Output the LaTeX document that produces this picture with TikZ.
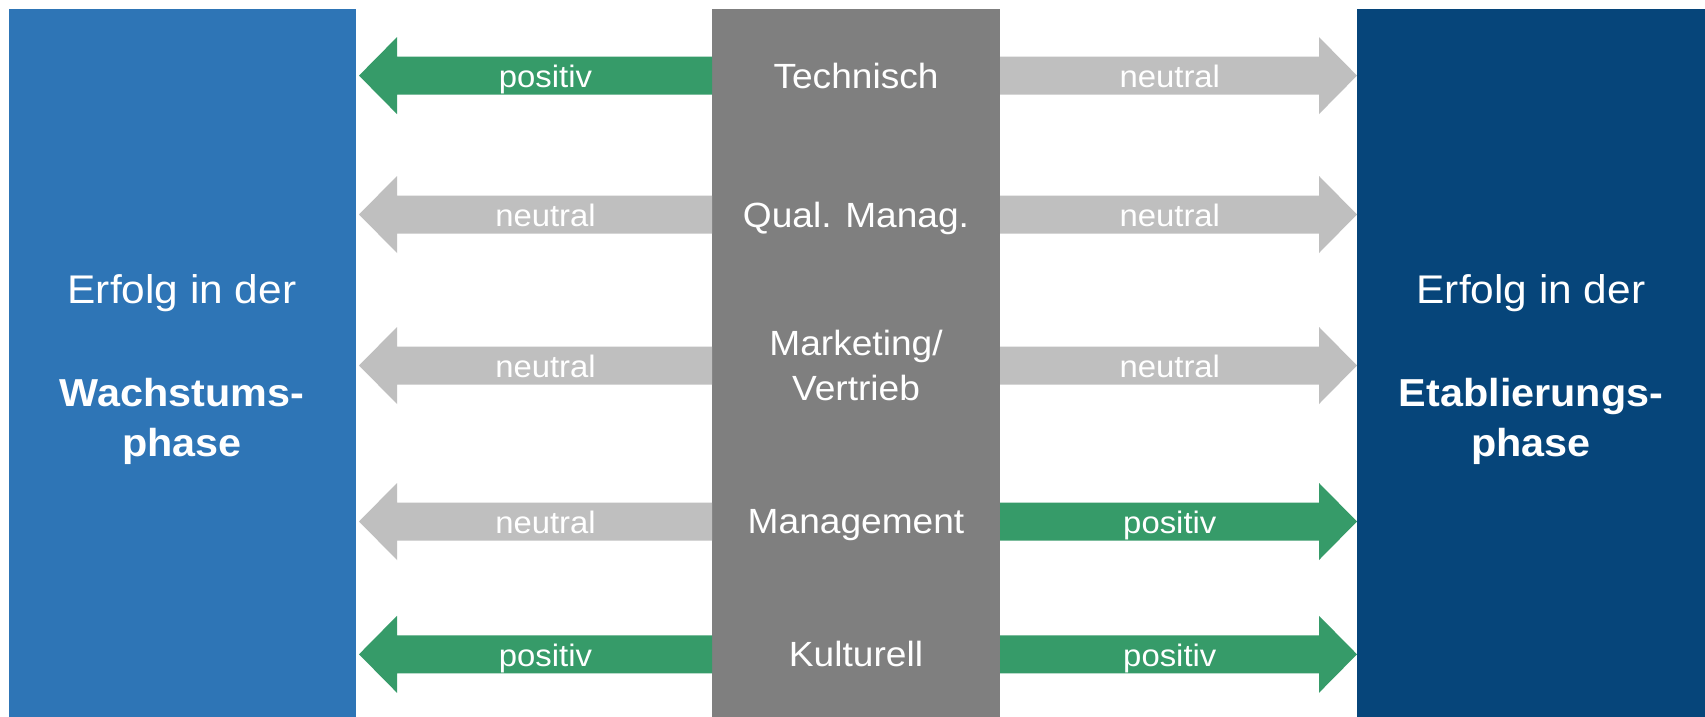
\documentclass[tikz,border=0pt]{standalone}
\usepackage{fontspec}
\setmainfont[FakeStretch=1.06]{Liberation Sans}
\definecolor{growblue}{HTML}{2E75B6}
\definecolor{estblue}{HTML}{06457A}
\definecolor{midgray}{HTML}{7F7F7F}
\definecolor{posgreen}{HTML}{369B69}
\definecolor{neutgray}{HTML}{BFBFBF}

% left-pointing arrow from the centre column to the growth box
% #1 row coordinate, #2 colour, #3 node name, #4 label
\newcommand\larrow[4]{%
  \fill[#2] (mid.west|-#1) ++(0,-19) -- ++(-315,0) -- ++(0,-19.5)
    -- ++(-38,38.5) -- ++(38,38.5) -- ++(0,-19.5) -- ++(315,0) -- cycle;
  \path (mid.west|-#1) ++(-166.5,12) node[arrlabel] (#3) {#4};}
% right-pointing arrow from the centre column to the established box
\newcommand\rarrow[4]{%
  \fill[#2] (mid.east|-#1) ++(0,-19) -- ++(319,0) -- ++(0,-19.5)
    -- ++(38,38.5) -- ++(-38,38.5) -- ++(0,-19.5) -- ++(-319,0) -- cycle;
  \path (mid.east|-#1) ++(169.8,12) node[arrlabel] (#3) {#4};}

\begin{document}
\begin{tikzpicture}[x=1pt,y=-1pt,
  panel/.style={anchor=north west, inner sep=0pt, outer sep=0pt, minimum height=708.3pt},
  arrlabel/.style={anchor=base, inner sep=0pt, text=white, font=\fontsize{31}{36}\selectfont},
  factor/.style={anchor=base, inner sep=0pt, text=white, font=\fontsize{35}{45}\selectfont},
  sidetext/.style={anchor=base, inner sep=0pt, text=white, font=\fontsize{40}{50}\selectfont},
  sidebold/.style={anchor=base, inner sep=0pt, text=white, font=\fontsize{39}{50}\selectfont\bfseries}]
\useasboundingbox (0,0) rectangle (1705,717);
\fill[white] (0,0) rectangle (1705,717);

% three columns
\node[panel, fill=growblue, minimum width=347pt] (wachs) at (8.7,8.7) {};
\node[panel, fill=midgray, minimum width=288pt] (mid) at (712,8.7) {};
\node[panel, fill=estblue, minimum width=348pt] (etab) at (1357,8.7) {};

% row heights
\coordinate (r1) at (0,75.6);
\coordinate (r2) at (0,214.5);
\coordinate (r3) at (0,365.5);
\coordinate (r4) at (0,521.5);
\coordinate (r5) at (0,654.3);

% arrows towards the growth phase
\larrow{r1}{posgreen}{l1}{positiv}
\larrow{r2}{neutgray}{l2}{neutral}
\larrow{r3}{neutgray}{l3}{neutral}
\larrow{r4}{neutgray}{l4}{neutral}
\larrow{r5}{posgreen}{l5}{positiv}

% arrows towards the establishment phase
\rarrow{r1}{neutgray}{e1}{neutral}
\rarrow{r2}{neutgray}{e2}{neutral}
\rarrow{r3}{neutgray}{e3}{neutral}
\rarrow{r4}{posgreen}{e4}{positiv}
\rarrow{r5}{posgreen}{e5}{positiv}

% success factors in the centre column
\node[factor] (f1) at (856,88.1) {Technisch};
\node[factor] (f2) at (856,227) {Qual. Manag.};
\node[factor] (f3a) at (856,355) {Marketing/};
\node[factor] (f3b) at (856,400) {Vertrieb};
\node[factor] (f4) at (856,533.5) {Management};
\node[factor] (f5) at (856,666.8) {Kulturell};

% phase descriptions
\node[sidetext] (w1) at (182,303.3) {Erfolg in der};
\node[sidebold] (w2) at (182,406) {Wachstums-};
\node[sidebold] (w3) at (182,456) {phase};
\node[sidetext] (b1) at (1531,303.3) {Erfolg in der};
\node[sidebold] (b2) at (1531,406) {Etablierungs-};
\node[sidebold] (b3) at (1531,456) {phase};
\end{tikzpicture}
\end{document}
